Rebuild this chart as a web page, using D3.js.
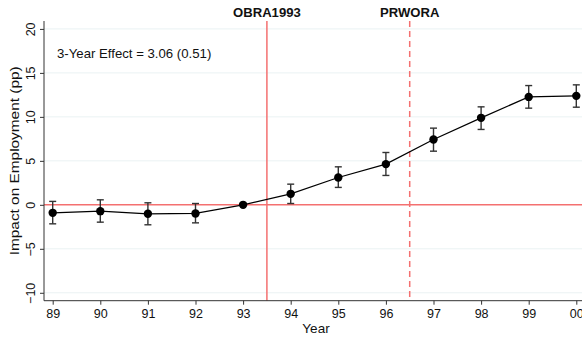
<!DOCTYPE html>
<html><head><meta charset="utf-8">
<script src="https://cdn.jsdelivr.net/npm/d3@7"></script>
<style>body{margin:0;background:#fff}svg{display:block;font-family:"Liberation Sans",Arial,sans-serif}</style>
</head><body><svg id="c" width="582" height="337"></svg>
<script>
const years = ["89","90","91","92","93","94","95","96","97","98","99","00"];
const estimates = [-0.91,-0.72,-1.02,-0.98,0,1.25,3.11,4.63,7.43,9.89,12.27,12.39];
const upper = [0.39,0.57,0.23,0.15,0,2.35,4.32,5.95,8.72,11.14,13.56,13.64];
const lower = [-2.16,-1.97,-2.27,-2.05,0,0.15,1.98,3.34,6.10,8.57,10.99,11.10];
const yTicks = [-10,-5,0,5,10,15,20];
const policies = [{label:"OBRA1993", after:"93", dashed:false},{label:"PRWORA", after:"96", dashed:true}];
const annotation = "3-Year Effect = 3.06 (0.51)";

(function(){
const svg = d3.select("#c");
const pLeft = 44, pRight = 582, pTop = 21, pBottom = 300.7;
const x = d3.scalePoint().domain(years).range([52.7, 576.3]);
const y = d3.scaleLinear().domain([-10.9, 20.9]).range([pBottom, pTop]);
const red = "#f47070", axisCol = "#333";

// grid
svg.append("g").selectAll("line").data(yTicks.filter(d=>d!==0)).join("line")
  .attr("x1", pLeft).attr("x2", pRight).attr("y1", d=>y(d)).attr("y2", d=>y(d))
  .attr("stroke", "#eaf2f3").attr("stroke-width", 1);

// zero line
svg.append("line").attr("x1", pLeft).attr("x2", pRight).attr("y1", y(0)).attr("y2", y(0))
  .attr("stroke", red).attr("stroke-width", 1.5);

// policy lines
policies.forEach(p => {
  const i = years.indexOf(p.after);
  const xv = (x(years[i]) + x(years[i+1])) / 2;
  svg.append("line").attr("x1", xv).attr("x2", xv).attr("y1", pTop).attr("y2", pBottom)
    .attr("stroke", red).attr("stroke-width", 1.5)
    .attr("stroke-dasharray", p.dashed ? "6,4" : null);
  svg.append("text").attr("x", xv).attr("y", 17).attr("text-anchor","middle")
    .attr("font-size", 13.1).attr("font-weight","bold").attr("fill","#111").text(p.label);
});

// axes
const yAxis = svg.append("g").attr("transform", `translate(${pLeft},0)`)
  .call(d3.axisLeft(y).tickValues(yTicks).tickSize(4).tickPadding(4));
yAxis.select(".domain").attr("d", `M0,${pTop}V${pBottom}`).attr("stroke", axisCol);
yAxis.selectAll(".tick line").attr("stroke", axisCol);
yAxis.selectAll(".tick text").attr("font-size", 12.5).attr("fill","#111")
  .attr("transform", "rotate(-90)").attr("x", 0).attr("y", -9).attr("dy", 0)
  .attr("text-anchor","middle").attr("font-family","Liberation Sans, Arial, sans-serif");

const xAxis = svg.append("g").attr("transform", `translate(0,${pBottom})`)
  .call(d3.axisBottom(x).tickSize(4).tickPadding(4.5));
xAxis.select(".domain").attr("d", `M${pLeft},0H${pRight}`).attr("stroke", axisCol);
xAxis.selectAll(".tick line").attr("stroke", axisCol);
xAxis.selectAll(".tick text").attr("font-size", 12.5).attr("fill","#111")
  .attr("font-family","Liberation Sans, Arial, sans-serif");

svg.append("text").attr("x", 316).attr("y", 333).attr("text-anchor","middle")
  .attr("font-size", 13.5).attr("fill","#111").text("Year");
svg.append("text").attr("transform", `translate(19,${(pTop+pBottom)/2}) rotate(-90) scale(1.14,1)`)
  .attr("text-anchor","middle").attr("font-size", 13.5).attr("fill","#111")
  .text("Impact on Employment (pp)");

svg.append("text").attr("x", 57).attr("y", 58).attr("font-size", 13.2).attr("fill","#111").text(annotation);

// series
const data = years.map((k,i)=>({k, v:estimates[i], hi:upper[i], lo:lower[i]}));
svg.append("path").datum(data)
  .attr("d", d3.line().x(d=>x(d.k)).y(d=>y(d.v)))
  .attr("fill","none").attr("stroke","#000").attr("stroke-width",1.2);

const eb = svg.append("g").attr("stroke","#333").attr("stroke-width",1.4);
data.filter(d=>d.hi!==d.lo).forEach(d=>{
  const cx = x(d.k);
  eb.append("line").attr("x1",cx).attr("x2",cx).attr("y1",y(d.hi)).attr("y2",y(d.lo));
  eb.append("line").attr("x1",cx-3.5).attr("x2",cx+3.5).attr("y1",y(d.hi)).attr("y2",y(d.hi));
  eb.append("line").attr("x1",cx-3.5).attr("x2",cx+3.5).attr("y1",y(d.lo)).attr("y2",y(d.lo));
});

svg.append("g").selectAll("circle").data(data).join("circle")
  .attr("cx", d=>x(d.k)).attr("cy", d=>y(d.v)).attr("r", 4.2).attr("fill","#000");
})();
</script></body></html>
